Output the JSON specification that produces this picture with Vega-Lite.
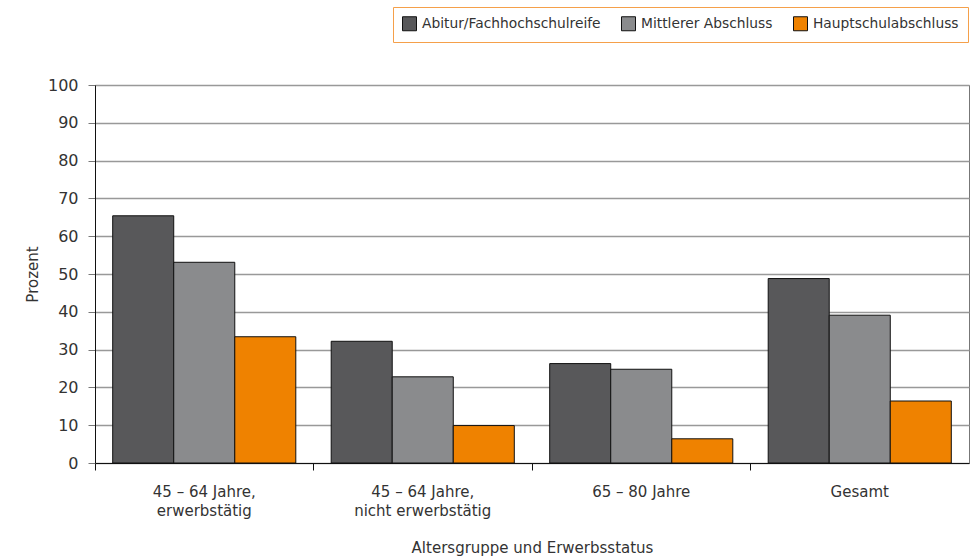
{
  "$schema": "https://vega.github.io/schema/vega-lite/v6.json",
  "autosize": {"type": "none"},
  "padding": {"left": 95, "top": 85, "right": 11, "bottom": 96},
  "width": 874,
  "height": 378,
  "background": "white",
  "config": {
    "font": "DejaVu Sans",
    "view": {"stroke": "#777", "strokeWidth": 1}
  },
  "data": {
    "values": [
      {"gruppe": "45 – 64 Jahre,\nerwerbstätig", "abschluss": "Abitur/Fachhochschulreife", "wert": 65.4},
      {"gruppe": "45 – 64 Jahre,\nerwerbstätig", "abschluss": "Mittlerer Abschluss", "wert": 53.1},
      {"gruppe": "45 – 64 Jahre,\nerwerbstätig", "abschluss": "Hauptschulabschluss", "wert": 33.4},
      {"gruppe": "45 – 64 Jahre,\nnicht erwerbstätig", "abschluss": "Abitur/Fachhochschulreife", "wert": 32.2},
      {"gruppe": "45 – 64 Jahre,\nnicht erwerbstätig", "abschluss": "Mittlerer Abschluss", "wert": 22.8},
      {"gruppe": "45 – 64 Jahre,\nnicht erwerbstätig", "abschluss": "Hauptschulabschluss", "wert": 9.9},
      {"gruppe": "65 – 80 Jahre", "abschluss": "Abitur/Fachhochschulreife", "wert": 26.3},
      {"gruppe": "65 – 80 Jahre", "abschluss": "Mittlerer Abschluss", "wert": 24.8},
      {"gruppe": "65 – 80 Jahre", "abschluss": "Hauptschulabschluss", "wert": 6.4},
      {"gruppe": "Gesamt", "abschluss": "Abitur/Fachhochschulreife", "wert": 48.8},
      {"gruppe": "Gesamt", "abschluss": "Mittlerer Abschluss", "wert": 39.1},
      {"gruppe": "Gesamt", "abschluss": "Hauptschulabschluss", "wert": 16.4}
    ]
  },
  "mark": {"type": "bar", "stroke": "#111", "strokeWidth": 1},
  "encoding": {
    "x": {
      "field": "gruppe",
      "type": "nominal",
      "sort": null,
      "scale": {"paddingInner": 0, "paddingOuter": 0},
      "axis": {
        "title": "Altersgruppe und Erwerbsstatus",
        "titleFontSize": 15,
        "titleFontWeight": "normal",
        "titleColor": "#333",
        "titlePadding": 22,
        "labelAngle": 0,
        "labelFontSize": 15,
        "labelColor": "#333",
        "labelPadding": 14,
        "labelLineHeight": 19,
        "labelExpr": "split(datum.label, '\\n')",
        "bandPosition": 0,
        "tickSize": 7,
        "tickColor": "#111",
        "domainColor": "#111",
        "grid": false
      }
    },
    "xOffset": {
      "field": "abschluss",
      "type": "nominal",
      "sort": ["Abitur/Fachhochschulreife", "Mittlerer Abschluss", "Hauptschulabschluss"],
      "scale": {"paddingInner": 0, "paddingOuter": 0.29}
    },
    "y": {
      "field": "wert",
      "type": "quantitative",
      "scale": {"domain": [0, 100], "nice": false},
      "axis": {
        "title": "Prozent",
        "titleFontSize": 15,
        "titleFontWeight": "normal",
        "titleColor": "#333",
        "titlePadding": 7,
        "values": [0, 10, 20, 30, 40, 50, 60, 70, 80, 90, 100],
        "labelOverlap": false,
        "labelFontSize": 16,
        "labelColor": "#333",
        "labelPadding": 10,
        "tickSize": 7,
        "tickColor": "#777",
        "domainColor": "#111",
        "gridColor": "#999",
        "gridWidth": 1.5
      }
    },
    "color": {
      "field": "abschluss",
      "type": "nominal",
      "sort": ["Abitur/Fachhochschulreife", "Mittlerer Abschluss", "Hauptschulabschluss"],
      "scale": {
        "domain": ["Abitur/Fachhochschulreife", "Mittlerer Abschluss", "Hauptschulabschluss"],
        "range": ["#58585a", "#8a8b8d", "#ef8200"]
      },
      "legend": {
        "title": null,
        "orient": "none",
        "direction": "horizontal",
        "legendX": 298,
        "legendY": -78,
        "symbolType": "square",
        "symbolSize": 196,
        "symbolStrokeColor": "#111",
        "symbolStrokeWidth": 1,
        "symbolOpacity": 1,
        "labelFontSize": 13.8,
        "labelLimit": 400,
        "labelColor": "#333",
        "labelOffset": 5,
        "columnPadding": 18,
        "padding": 9,
        "strokeColor": "#f5a04a",
        "fillColor": "white"
      }
    }
  }
}
